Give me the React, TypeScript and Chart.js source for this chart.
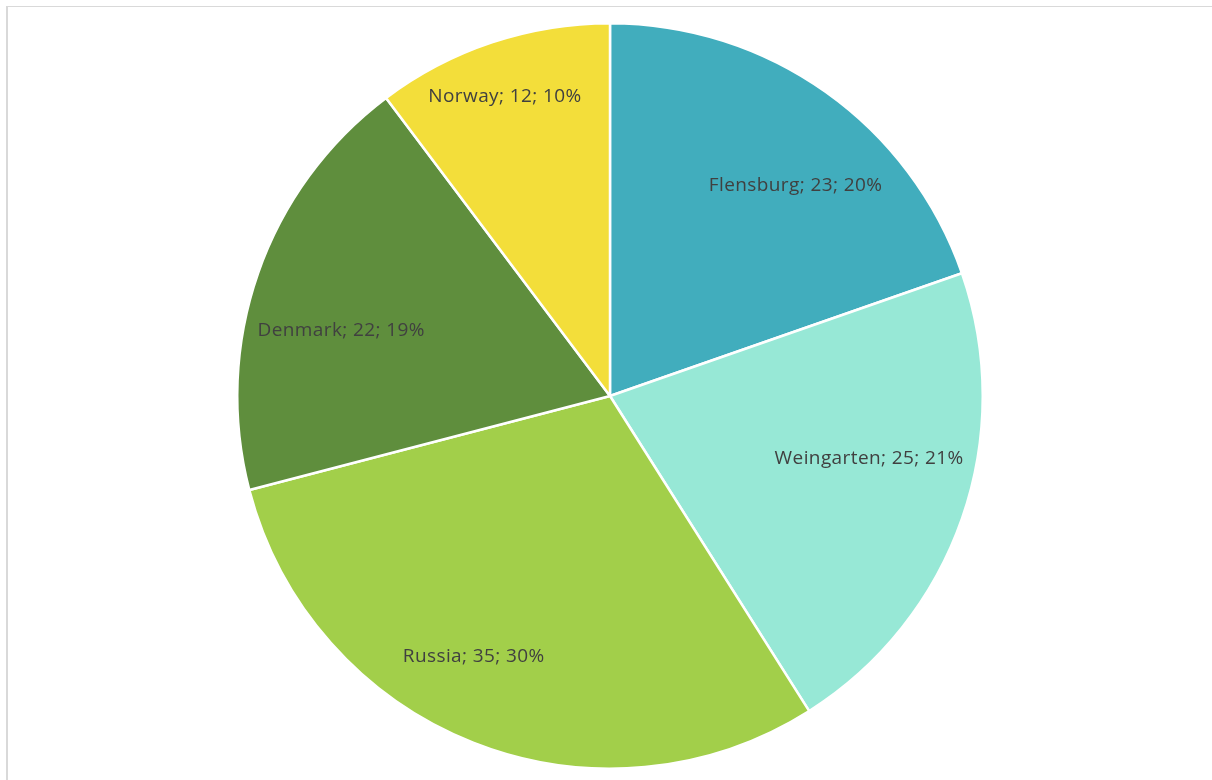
import React, { useEffect, useRef } from "react";
import { Chart, registerables } from "chart.js";

Chart.register(...registerables);

const categories = ["Flensburg", "Weingarten", "Russia", "Denmark", "Norway"];
const values = [23, 25, 35, 22, 12];
const colors = ["#41adbd", "#97e8d6", "#a2cf4a", "#5f8e3d", "#f3de3a"];
// label placement tweaks (degrees shift from mid-angle, radius fraction)
const labelAngleShift = [6, -5.7, 6.1, -5.6, -0.9];
const labelRadiusFrac = [0.753, 0.715, 0.788, 0.742, 0.85];

const labelPlugin = {
  id: "sliceLabels",
  afterDatasetsDraw(chart: any) {
    const meta = chart.getDatasetMeta(0);
    const ctx = chart.ctx;
    const data = chart.data.datasets[0].data as number[];
    const total = data.reduce((a, b) => a + b, 0);
    ctx.save();
    ctx.font = '19px "Open Sans", sans-serif';
    try { (ctx as any).letterSpacing = "0.4px"; } catch (e) {}
    ctx.fillStyle = "#404040";
    ctx.textAlign = "center";
    ctx.textBaseline = "middle";
    meta.data.forEach((arc: any, i: number) => {
      const { x, y, startAngle, endAngle, outerRadius } = arc.getProps(
        ["x", "y", "startAngle", "endAngle", "outerRadius"],
        true
      );
      const mid = (startAngle + endAngle) / 2 + (labelAngleShift[i] * Math.PI) / 180;
      const r = outerRadius * labelRadiusFrac[i];
      const lx = x + Math.cos(mid) * r;
      const ly = y + Math.sin(mid) * r;
      const pct = Math.round((data[i] / total) * 100);
      ctx.fillText(`${chart.data.labels[i]}; ${data[i]}; ${pct}%`, lx, ly);
    });
    ctx.restore();
  },
};

export default function App() {
  const ref = useRef<HTMLCanvasElement>(null);
  useEffect(() => {
    const chart = new Chart(ref.current!, {
      type: "pie",
      data: {
        labels: categories,
        datasets: [
          {
            data: values,
            backgroundColor: colors,
            borderColor: "#ffffff",
            borderWidth: 2.5,
          },
        ],
      },
      options: {
        animation: false,
        responsive: true,
        maintainAspectRatio: false,
        plugins: {
          legend: { display: false },
          tooltip: { enabled: false },
        },
        layout: { padding: 0 },
      },
      plugins: [labelPlugin],
    });
    return () => chart.destroy();
  }, []);
  return (
    <div style={{ position: "absolute", left: 0, top: 0, width: 1212, height: 780, overflow: "hidden", background: "#fff" }}>
      <div
        style={{
          position: "absolute",
          left: 6,
          top: 6,
          width: 1260,
          height: 820,
          borderTop: "1px solid #d9d9d9",
          borderLeft: "2px solid #d9d9d9",
        }}
      />
      <div style={{ position: "absolute", left: 0, top: 22, width: 1220, height: 748 }}>
        <canvas ref={ref} />
      </div>
    </div>
  );
}
